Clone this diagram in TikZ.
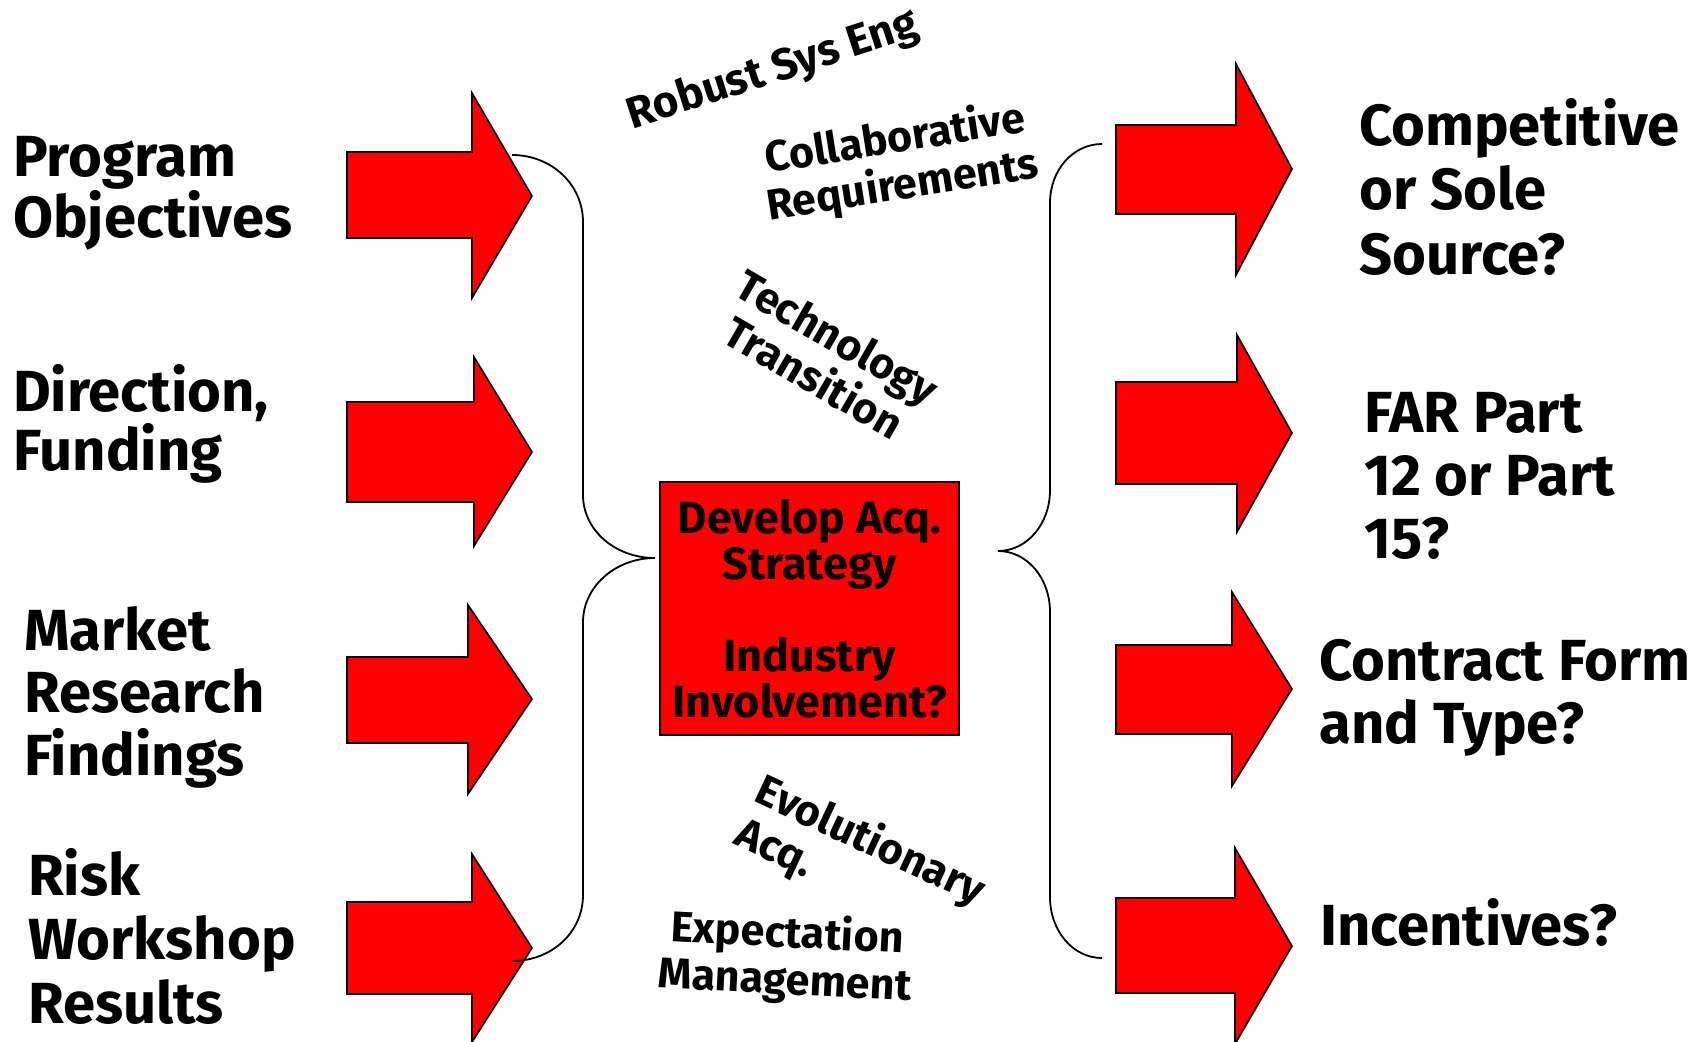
\documentclass[tikz,border=0pt]{standalone}
\usepackage{fontspec}
\setmainfont{Fira Sans}
% block arrow: shaft left x, shaft top, shaft bottom, head base x, head top, tip x, tip y, head bottom
\newcommand{\blockarrow}[8]{%
  \draw[arrowfill] (#1,#2) -- (#4,#2) -- (#4,#5) -- (#6,#7) -- (#4,#8) -- (#4,#3) -- (#1,#3) -- cycle;}
\begin{document}
\begin{tikzpicture}[x=1pt,y=-1pt,
  arrowfill/.style={fill=red,draw=black,line width=1.6pt,line join=miter},
  brace/.style={draw=black,line width=1.8pt},
  lbl/.style={inner sep=0pt,anchor=base west,align=left},
  box/.style={draw=black,line width=2pt,fill=red,minimum width=299pt,minimum height=253pt,
    inner sep=0pt,align=center,font=\fontsize{45}{46}\selectfont\bfseries},
  diag/.style={inner sep=0pt,align=center,font=\fontsize{43}{47}\selectfont\bfseries}]
\useasboundingbox (0,0) rectangle (1707,1041);

% input arrows
\blockarrow{347}{152}{238}{472}{93}{532}{196}{298}
\blockarrow{347}{402}{502}{474}{357}{532}{452}{546}
\blockarrow{347}{657}{743}{468}{605}{532}{699}{794}
\blockarrow{347}{902}{994}{472}{854}{532}{948}{1042}
% output arrows
\blockarrow{1116}{125}{214}{1236}{64}{1292}{169}{275}
\blockarrow{1116}{382}{484}{1237}{335}{1292}{433}{532}
\blockarrow{1116}{645}{734}{1232}{592}{1292}{689}{786}
\blockarrow{1116}{898}{993}{1235}{848}{1292}{946}{1044}

% central box
\node[box] (strategy) at (809.5,608.5) {Develop Acq.\\Strategy\\[46pt]Industry\\Involvement?};

% brace end points
\coordinate (lbTop) at (512,155);
\coordinate (lbCusp) at (655,558);
\coordinate (lbBot) at (512,961);
\coordinate (rbTop) at (1102,144);
\coordinate (rbCusp) at (998,551);
\coordinate (rbBot) at (1102,958);

% left brace
\draw[brace] (lbTop) .. controls +(40,0) and +(0,-37) .. (583,222) -- (583,495)
  .. controls +(0,35) and +(-40,0) .. (lbCusp)
  .. controls +(-40,0) and +(0,-35) .. (583,622) -- (583,895)
  .. controls +(0,37) and +(40,0) .. (lbBot);
% right brace
\draw[brace] (rbTop) .. controls +(-29,0) and +(0,-33) .. (1050,203) -- (1050,490)
  .. controls +(0,34) and +(29,0) .. (rbCusp)
  .. controls +(29,0) and +(0,-34) .. (1050,612) -- (1050,897)
  .. controls +(0,34) and +(-29,0) .. (rbBot);

% input labels (placed by the baseline of their last line)
\node[lbl,font=\fontsize{58}{57}\selectfont\bfseries] (progobj) at (13,237) {Program\\Objectives};
\node[lbl,font=\fontsize{58}{54}\selectfont\bfseries] (dirfund) at (13,470) {Direction,\\Funding};
\node[lbl,font=\fontsize{58}{62.5}\selectfont\bfseries] (market) at (24,775) {Market\\Research\\Findings};
\node[lbl,font=\fontsize{58}{64}\selectfont\bfseries] (risk) at (28,1023) {Risk\\Workshop\\Results};

% output labels
\node[lbl,font=\fontsize{58}{64.5}\selectfont\bfseries] (compet) at (1359,274) {Competitive\\or Sole\\Source?};
\node[lbl,font=\fontsize{58}{63}\selectfont\bfseries] (far) at (1364,558) {FAR Part\\12 or Part\\15?};
\node[lbl,font=\fontsize{58}{63}\selectfont\bfseries] (contract) at (1319,743) {Contract Form\\and Type?};
\node[lbl,font=\fontsize{58}{63}\selectfont\bfseries] (incent) at (1320,945) {Incentives?};

% slanted themes
\node[diag,rotate=18,font=\fontsize{44}{47}\selectfont\bfseries] (robust) at (773,71) {Robust Sys Eng};
\node[diag,rotate=9] (collab) at (899,163) {Collaborative\\Requirements};
\node[diag,rotate=-30] (techtr) at (826,357) {Technology\\Transition};
\node[diag,rotate=-25,align=left] (evol) at (860,863) {Evolutionary\\Acq.};
\node[diag,rotate=-3] (expect) at (786,958) {Expectation\\Management};
\end{tikzpicture}
\end{document}
